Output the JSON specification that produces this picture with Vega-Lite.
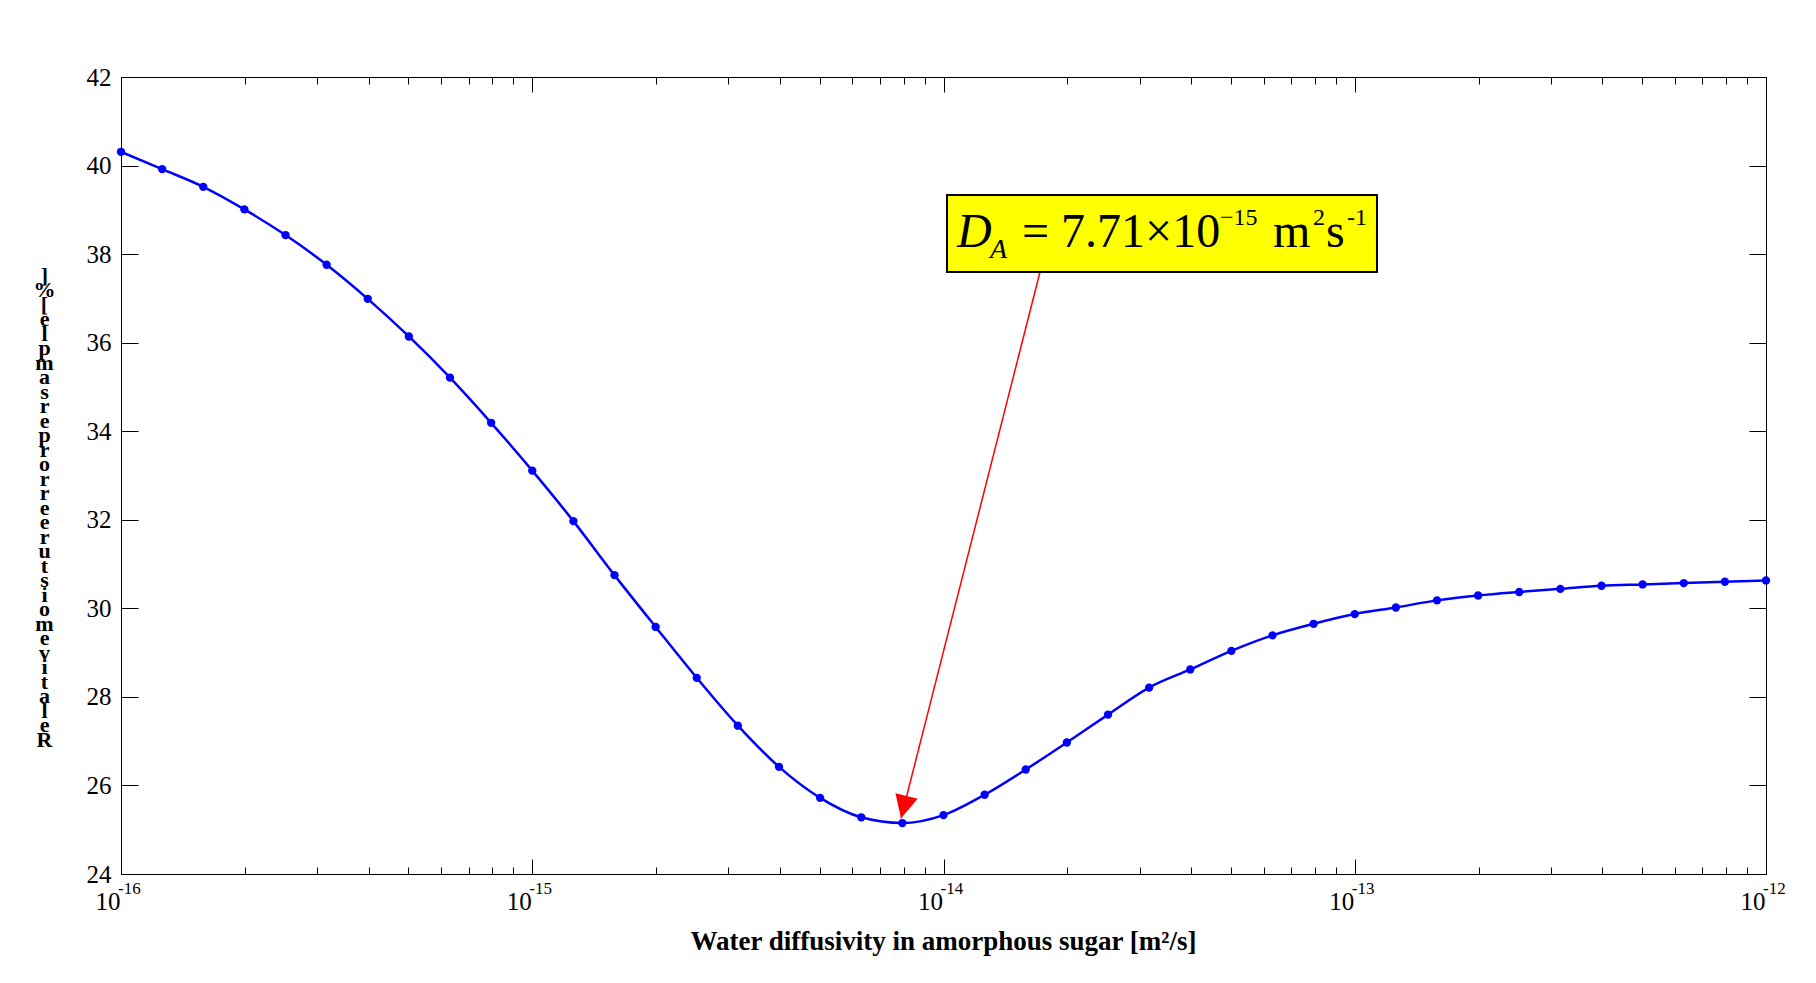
{
  "$schema": "https://vega.github.io/schema/vega-lite/v6.json",
  "width": 1645,
  "height": 797,
  "autosize": {"type": "none"},
  "padding": {"left": 121, "top": 77, "right": 50, "bottom": 109},
  "background": "white",
  "config": {
    "view": {"stroke": "black", "strokeWidth": 1},
    "axis": {"tickColor": "black", "tickWidth": 1, "grid": false, "domain": false}
  },
  "datasets": {
    "curve": [
      {"D": 1e-16, "E": 40.31}, {"D": 1.2589e-16, "E": 39.92}, {"D": 1.5849e-16, "E": 39.52}, {"D": 1.9953e-16, "E": 39.01},
      {"D": 2.5119e-16, "E": 38.43}, {"D": 3.1623e-16, "E": 37.76}, {"D": 3.9811e-16, "E": 36.99}, {"D": 5.0119e-16, "E": 36.14},
      {"D": 6.3096e-16, "E": 35.21}, {"D": 7.9433e-16, "E": 34.19}, {"D": 1e-15, "E": 33.11}, {"D": 1.2589e-15, "E": 31.97},
      {"D": 1.5849e-15, "E": 30.75}, {"D": 1.9953e-15, "E": 29.58}, {"D": 2.5119e-15, "E": 28.43}, {"D": 3.1623e-15, "E": 27.35},
      {"D": 3.9811e-15, "E": 26.42}, {"D": 5.0119e-15, "E": 25.72}, {"D": 6.3096e-15, "E": 25.28}, {"D": 7.9433e-15, "E": 25.15},
      {"D": 1e-14, "E": 25.33}, {"D": 1.2589e-14, "E": 25.79}, {"D": 1.5849e-14, "E": 26.36}, {"D": 1.9953e-14, "E": 26.97},
      {"D": 2.5119e-14, "E": 27.60}, {"D": 3.1623e-14, "E": 28.21}, {"D": 3.9811e-14, "E": 28.62}, {"D": 5.0119e-14, "E": 29.04},
      {"D": 6.3096e-14, "E": 29.39}, {"D": 7.9433e-14, "E": 29.65}, {"D": 1e-13, "E": 29.87}, {"D": 1.2589e-13, "E": 30.02},
      {"D": 1.5849e-13, "E": 30.18}, {"D": 1.9953e-13, "E": 30.29}, {"D": 2.5119e-13, "E": 30.37}, {"D": 3.1623e-13, "E": 30.44},
      {"D": 3.9811e-13, "E": 30.51}, {"D": 5.0119e-13, "E": 30.54}, {"D": 6.3096e-13, "E": 30.57}, {"D": 7.9433e-13, "E": 30.60},
      {"D": 1e-12, "E": 30.63}
    ],
    "decades": [
      {"d": 1e-16, "p": "-16"}, {"d": 1e-15, "p": "-15"}, {"d": 1e-14, "p": "-14"}, {"d": 1e-13, "p": "-13"}, {"d": 1e-12, "p": "-12"}
    ]
  },
  "resolve": {"axis": {"x": "independent", "y": "independent"}},
  "layer": [
    {
      "data": {"name": "curve"},
      "mark": {"type": "line", "interpolate": "monotone", "color": "#0000FF", "strokeWidth": 2.5},
      "encoding": {
        "x": {
          "field": "D", "type": "quantitative",
          "scale": {"type": "log", "domain": [1e-16, 1e-12], "nice": false},
          "axis": {
            "orient": "bottom",
            "values": [1e-16, 2e-16, 3e-16, 4e-16, 5e-16, 6e-16, 7e-16, 8e-16, 9e-16,
                       1e-15, 2e-15, 3e-15, 4e-15, 5e-15, 6e-15, 7e-15, 8e-15, 9e-15,
                       1e-14, 2e-14, 3e-14, 4e-14, 5e-14, 6e-14, 7e-14, 8e-14, 9e-14,
                       1e-13, 2e-13, 3e-13, 4e-13, 5e-13, 6e-13, 7e-13, 8e-13, 9e-13, 1e-12],
            "tickSize": {"condition": {"test": "abs(log(datum.value)/LN10 - round(log(datum.value)/LN10)) < 0.01", "value": -15}, "value": -7},
            "labelExpr": "abs(log(datum.value)/LN10 - round(log(datum.value)/LN10)) < 0.01 ? '10' : ''",
            "labelAlign": "right", "labelBaseline": "alphabetic", "labelPadding": 50, "labelOffset": -1,
            "labelFont": "Liberation Serif", "labelFontSize": 25, "labelColor": "black",
            "labelFlush": false, "labelOverlap": false,
            "title": "Water diffusivity in amorphous sugar [m²/s]",
            "titleFont": "Liberation Serif", "titleFontSize": 27, "titleFontWeight": "bold", "titleColor": "black",
            "titleX": 822, "titleY": 75, "titleAlign": "center", "titleBaseline": "alphabetic"
          }
        },
        "y": {
          "field": "E", "type": "quantitative",
          "scale": {"domain": [24, 42], "nice": false, "zero": false},
          "axis": {
            "orient": "left",
            "values": [24, 26, 28, 30, 32, 34, 36, 38, 40, 42],
            "tickSize": -17, "labelPadding": 27,
            "labelFont": "Liberation Serif", "labelFontSize": 25, "labelColor": "black",
            "labelFlush": false, "labelOverlap": false,
            "title": ["]", "%", "[", " ", "e", "l", "p", "m", "a", "s", " ", "r", "e", "p", " ", "r", "o", "r", "r", "e", " ", "e", "r", "u", "t", "s", "i", "o", "m", " ", "e", "v", "i", "t", "a", "l", "e", "R"],
            "titleAngle": 0, "titleX": -77, "titleY": 198, "titleAlign": "center", "titleBaseline": "middle",
            "titleLineHeight": 14.5, "titleFont": "Liberation Serif", "titleFontSize": 22, "titleFontWeight": "bold", "titleColor": "black"
          }
        }
      }
    },
    {
      "data": {"name": "curve"},
      "mark": {"type": "point", "filled": true, "shape": "circle", "size": 70, "color": "#0000FF", "opacity": 1},
      "encoding": {
        "x": {
          "field": "D", "type": "quantitative",
          "scale": {"type": "log", "domain": [1e-16, 1e-12], "nice": false},
          "axis": {
            "orient": "top",
            "values": [1e-16, 2e-16, 3e-16, 4e-16, 5e-16, 6e-16, 7e-16, 8e-16, 9e-16,
                       1e-15, 2e-15, 3e-15, 4e-15, 5e-15, 6e-15, 7e-15, 8e-15, 9e-15,
                       1e-14, 2e-14, 3e-14, 4e-14, 5e-14, 6e-14, 7e-14, 8e-14, 9e-14,
                       1e-13, 2e-13, 3e-13, 4e-13, 5e-13, 6e-13, 7e-13, 8e-13, 9e-13, 1e-12],
            "tickSize": {"condition": {"test": "abs(log(datum.value)/LN10 - round(log(datum.value)/LN10)) < 0.01", "value": -15}, "value": -7},
            "labels": false, "title": null
          }
        },
        "y": {
          "field": "E", "type": "quantitative",
          "scale": {"domain": [24, 42], "nice": false, "zero": false},
          "axis": {"orient": "right", "values": [24, 26, 28, 30, 32, 34, 36, 38, 40, 42], "tickSize": -17, "labels": false, "title": null}
        }
      }
    },
    {
      "data": {"name": "decades"},
      "mark": {"type": "text", "align": "left", "baseline": "alphabetic", "dx": -3, "dy": 20, "font": "Liberation Serif", "fontSize": 17, "color": "black"},
      "encoding": {
        "x": {"field": "d", "type": "quantitative", "scale": {"type": "log", "domain": [1e-16, 1e-12], "nice": false}, "axis": null},
        "y": {"datum": 24, "type": "quantitative", "scale": {"domain": [24, 42], "nice": false, "zero": false}, "axis": null},
        "text": {"field": "p", "type": "nominal"}
      }
    },
    {
      "data": {"values": [{"a": 1}]},
      "mark": {"type": "rule", "color": "#FF0000", "strokeWidth": 1.5},
      "encoding": {
        "x": {"datum": 1.7165e-14, "type": "quantitative", "scale": {"type": "log", "domain": [1e-16, 1e-12], "nice": false}, "axis": null},
        "x2": {"datum": 7.884e-15},
        "y": {"datum": 37.596, "type": "quantitative", "scale": {"domain": [24, 42], "nice": false, "zero": false}, "axis": null},
        "y2": {"datum": 25.259}
      }
    },
    {
      "data": {"values": [{"a": 1}]},
      "mark": {"type": "point", "shape": "M0,0L-0.5,-1L0.5,-1Z", "filled": true, "color": "#FF0000", "opacity": 1, "size": 2100, "angle": 14},
      "encoding": {
        "x": {"datum": 7.884e-15, "type": "quantitative", "scale": {"type": "log", "domain": [1e-16, 1e-12], "nice": false}, "axis": null},
        "y": {"datum": 25.259, "type": "quantitative", "scale": {"domain": [24, 42], "nice": false, "zero": false}, "axis": null}
      }
    },
    {
      "data": {"values": [{"a": 1}]},
      "mark": {"type": "rect", "fill": "#FFFF00", "stroke": "black", "strokeWidth": 2},
      "encoding": {
        "x": {"datum": 1.0198e-14, "type": "quantitative", "scale": {"type": "log", "domain": [1e-16, 1e-12], "nice": false}, "axis": null},
        "x2": {"datum": 1.1325e-13},
        "y": {"datum": 39.335, "type": "quantitative", "scale": {"domain": [24, 42], "nice": false, "zero": false}, "axis": null},
        "y2": {"datum": 37.596}
      }
    },
    {
      "data": {"values": [
        {"t": "D", "k": "D"}, {"t": "A", "k": "sub"}, {"t": "= 7.71×10", "k": "main"},
        {"t": "−15", "k": "sup1"}, {"t": "m", "k": "m"}, {"t": "2", "k": "sup2"}, {"t": "s", "k": "s"}, {"t": "-1", "k": "sup3"}
      ]},
      "layer": [
        {"transform": [{"filter": "datum.k === 'D'"}], "mark": {"type": "text", "align": "left", "baseline": "alphabetic", "dx": 10, "font": "Liberation Serif", "fontSize": 48, "fontStyle": "italic", "color": "black"}},
        {"transform": [{"filter": "datum.k === 'sub'"}], "mark": {"type": "text", "align": "left", "baseline": "alphabetic", "dx": 43, "dy": 11, "font": "Liberation Serif", "fontSize": 28, "fontStyle": "italic", "color": "black"}},
        {"transform": [{"filter": "datum.k === 'main'"}], "mark": {"type": "text", "align": "left", "baseline": "alphabetic", "dx": 75, "font": "Liberation Serif", "fontSize": 48, "color": "black"}},
        {"transform": [{"filter": "datum.k === 'sup1'"}], "mark": {"type": "text", "align": "left", "baseline": "alphabetic", "dx": 273, "dy": -22, "font": "Liberation Serif", "fontSize": 24, "color": "black"}},
        {"transform": [{"filter": "datum.k === 'm'"}], "mark": {"type": "text", "align": "left", "baseline": "alphabetic", "dx": 326, "font": "Liberation Serif", "fontSize": 48, "color": "black"}},
        {"transform": [{"filter": "datum.k === 'sup2'"}], "mark": {"type": "text", "align": "left", "baseline": "alphabetic", "dx": 366, "dy": -22, "font": "Liberation Serif", "fontSize": 24, "color": "black"}},
        {"transform": [{"filter": "datum.k === 's'"}], "mark": {"type": "text", "align": "left", "baseline": "alphabetic", "dx": 379, "font": "Liberation Serif", "fontSize": 48, "color": "black"}},
        {"transform": [{"filter": "datum.k === 'sup3'"}], "mark": {"type": "text", "align": "left", "baseline": "alphabetic", "dx": 400, "dy": -22, "font": "Liberation Serif", "fontSize": 24, "color": "black"}}
      ],
      "encoding": {
        "x": {"datum": 1.0198e-14, "type": "quantitative", "scale": {"type": "log", "domain": [1e-16, 1e-12], "nice": false}, "axis": null},
        "y": {"datum": 38.161, "type": "quantitative", "scale": {"domain": [24, 42], "nice": false, "zero": false}, "axis": null},
        "text": {"field": "t", "type": "nominal"}
      }
    }
  ]
}
